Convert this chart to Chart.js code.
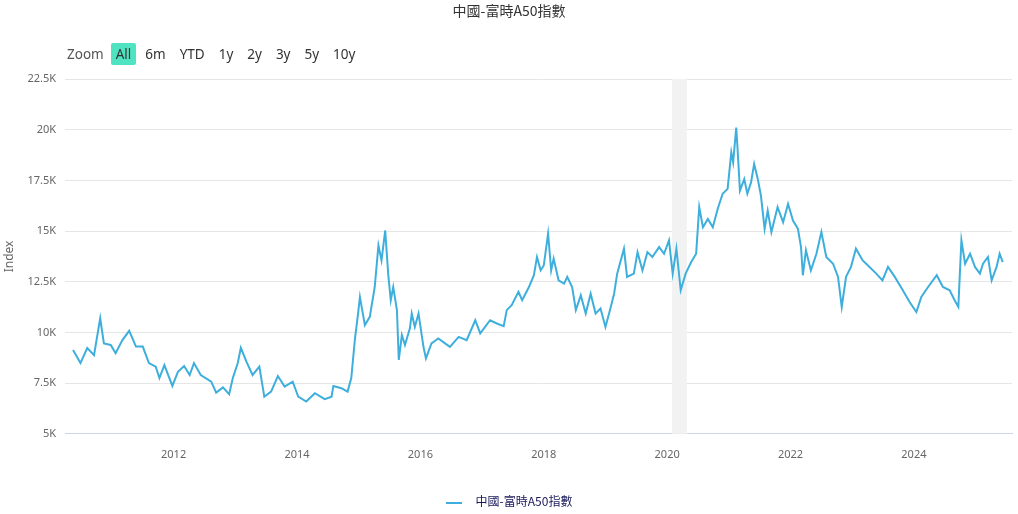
<!DOCTYPE html>
<html>
<head>
<meta charset="utf-8">
<script src="https://cdn.jsdelivr.net/npm/chart.js@4.4.1/dist/chart.umd.min.js"></script>
<style>
  body { margin: 0; background: #fff; font-family: "Noto Sans", "Noto Sans CJK SC", sans-serif; }
  #wrap { position: relative; width: 1018px; height: 514px; }
  #title { position: absolute; top: 0; left: 0; width: 1018px; text-align: center; font-size: 14px; color: #333; line-height: 20px; font-family: "Noto Sans CJK SC", sans-serif; }
  #zoom { position: absolute; top: 43px; left: 67px; font-size: 13.5px; color: #333; display: flex; align-items: center; }
  #zoom span { padding: 2px 5px; margin-right: 4px; border-radius: 2px; color: #333; }
  #zoom span.label { padding-left: 0; margin-right: 2px; color: #555; }
  #zoom span.on { background: #50e3c2; }
  #legend { position: absolute; top: 492px; left: 0; width: 1018px; text-align: center; font-size: 12px; color: #1a1a5a; font-family: "Noto Sans CJK SC", sans-serif; }
  #legend i { display: inline-block; width: 16px; height: 2px; background: #3eafdc; vertical-align: middle; margin-right: 14px; }
</style>
</head>
<body>
<div id="wrap">
  <canvas id="c" width="1018" height="514"></canvas>
  <div id="title">中國-富時A50指數</div>
  <div id="zoom"><span class="label">Zoom</span><span class="on">All</span><span>6m</span><span>YTD</span><span>1y</span><span>2y</span><span>3y</span><span>5y</span><span>10y</span></div>
  <div id="legend"><i></i>中國-富時A50指數</div>
</div>
<script>
const seriesName = "中國-富時A50指數";
const years = [
  2010.37, 2010.49, 2010.60, 2010.71, 2010.81, 2010.87, 2010.98, 2011.06, 2011.17, 2011.28,
  2011.39, 2011.50, 2011.60, 2011.71, 2011.77, 2011.85, 2011.98, 2012.07, 2012.17, 2012.26,
  2012.33, 2012.44, 2012.61, 2012.69, 2012.80, 2012.90, 2012.96, 2013.04, 2013.09, 2013.18,
  2013.28, 2013.39, 2013.47, 2013.58, 2013.69, 2013.80, 2013.93, 2014.02, 2014.15, 2014.29,
  2014.45, 2014.56, 2014.59, 2014.72, 2014.82, 2014.88, 2014.94, 2014.99, 2015.02, 2015.10,
  2015.18, 2015.26, 2015.32, 2015.37, 2015.43, 2015.48, 2015.52, 2015.56, 2015.62, 2015.65,
  2015.70, 2015.75, 2015.83, 2015.86, 2015.91, 2015.97, 2016.05, 2016.09, 2016.18, 2016.29,
  2016.40, 2016.48, 2016.62, 2016.75, 2016.89, 2016.97, 2017.13, 2017.24, 2017.35, 2017.40,
  2017.48, 2017.59, 2017.65, 2017.76, 2017.84, 2017.89, 2017.95, 2018.00, 2018.07, 2018.12,
  2018.16, 2018.24, 2018.33, 2018.38, 2018.46, 2018.52, 2018.60, 2018.68, 2018.76, 2018.84,
  2018.92, 2019.00, 2019.08, 2019.14, 2019.19, 2019.30, 2019.35, 2019.46, 2019.52, 2019.60,
  2019.68, 2019.76, 2019.87, 2019.95, 2020.03, 2020.09, 2020.15, 2020.22, 2020.30, 2020.39,
  2020.47, 2020.52, 2020.58, 2020.66, 2020.74, 2020.82, 2020.90, 2020.98, 2021.04, 2021.07,
  2021.12, 2021.14, 2021.18, 2021.25, 2021.30, 2021.36, 2021.41, 2021.47, 2021.52, 2021.58,
  2021.63, 2021.69, 2021.79, 2021.88, 2021.96, 2022.04, 2022.12, 2022.17, 2022.20, 2022.25,
  2022.33, 2022.42, 2022.50, 2022.58, 2022.69, 2022.77, 2022.83, 2022.90, 2022.98, 2023.06,
  2023.17, 2023.28, 2023.39, 2023.49, 2023.58, 2023.69, 2023.82, 2023.93, 2024.04, 2024.12,
  2024.23, 2024.37, 2024.47, 2024.58, 2024.66, 2024.72, 2024.77, 2024.83, 2024.91, 2024.99,
  2025.07, 2025.12, 2025.20, 2025.26, 2025.34, 2025.39, 2025.44
];
const values = [
  9130, 8490, 9230, 8880, 10700, 9460, 9380, 8980, 9620, 10080,
  9300, 9300, 8490, 8310, 7750, 8390, 7360, 8060, 8340, 7900,
  8490, 7900, 7570, 7030, 7290, 6950, 7750, 8490, 9240, 8560,
  7900, 8310, 6830, 7080, 7850, 7330, 7570, 6830, 6590, 7000,
  6710, 6830, 7360, 7250, 7080, 7750, 9700, 10930, 11750, 10360,
  10770, 12240, 14290, 13550, 15030, 12820, 11590, 12240, 11100, 8640,
  9870, 9380, 10200, 10930, 10270, 10930, 9290, 8720, 9460, 9700,
  9460, 9290, 9780, 9620, 10600, 9950, 10600, 10440, 10310, 11100,
  11340, 12000, 11590, 12240, 12820, 13720, 13060, 13300, 14870, 13060,
  13640, 12570, 12410, 12740, 12240, 11100, 11830, 10930, 11910, 10930,
  11180, 10270, 11180, 11910, 12900, 14130, 12740, 12900, 13960, 13060,
  13960, 13720, 14210, 13880, 14540, 12900, 14130, 12080, 12900, 13470,
  13880, 16180, 15190, 15600, 15190, 16100, 16840, 17080, 18880, 18390,
  20100, 19120, 16990, 17560, 16840, 17400, 18310, 17560, 16750, 15110,
  16010, 14950, 16180, 15440, 16340, 15520, 15110, 14210, 12820, 14050,
  13060, 13880, 14950, 13720, 13390, 12740, 11260, 12740, 13230, 14130,
  13550, 13230, 12900, 12570, 13230, 12740, 12080, 11500, 11010, 11750,
  12240, 12820, 12240, 12080, 11590, 11260, 14540, 13390, 13880, 13230,
  12900, 13390, 13720, 12570, 13230, 13880, 13470
];
const xTicks = [2012, 2014, 2016, 2018, 2020, 2022, 2024];
const yTicks = [5000, 7500, 10000, 12500, 15000, 17500, 20000, 22500];
const band = [2020.08, 2020.32];

const bandPlugin = {
  id: "band",
  beforeDatasetsDraw(chart) {
    const { ctx, chartArea, scales } = chart;
    const x0 = scales.x.getPixelForValue(band[0]);
    const x1 = scales.x.getPixelForValue(band[1]);
    ctx.save();
    ctx.fillStyle = "#f2f2f2";
    ctx.fillRect(x0, chartArea.top, x1 - x0, chartArea.bottom - chartArea.top);
    ctx.restore();
  },
};

new Chart(document.getElementById("c"), {
  type: "line",
  data: {
    datasets: [{
      label: seriesName,
      data: years.map((y, i) => ({ x: y, y: values[i] })),
      borderColor: "#3eafdc",
      borderWidth: 2,
      pointRadius: 0,
      tension: 0,
    }],
  },
  options: {
    responsive: false,
    animation: false,
    layout: { padding: { top: 79, bottom: 47, left: 0, right: 6 } },
    plugins: { legend: { display: false }, tooltip: { enabled: false } },
    scales: {
      x: {
        type: "linear",
        min: 2010.24,
        max: 2025.59,
        afterBuildTicks: (s) => { s.ticks = xTicks.map((v) => ({ value: v })); },
        ticks: { color: "#666", font: { size: 11, family: "Noto Sans" }, callback: (v) => String(v), maxRotation: 0, padding: 6 },
        grid: { display: false, drawTicks: true },
        border: { color: "#ccd6eb" },
      },
      y: {
        min: 5000,
        max: 22500,
        afterBuildTicks: (s) => { s.ticks = yTicks.map((v) => ({ value: v })); },
        ticks: { color: "#666", font: { size: 11, family: "Noto Sans" }, callback: (v) => v / 1000 + "K", padding: 9 },
        grid: { color: "#e6e6e6", drawTicks: false },
        border: { display: false },
        title: { display: true, text: "Index", color: "#666", font: { size: 12, family: "Noto Sans" }, padding: 2 },
      },
    },
  },
  plugins: [bandPlugin],
});
</script>
</body>
</html>
